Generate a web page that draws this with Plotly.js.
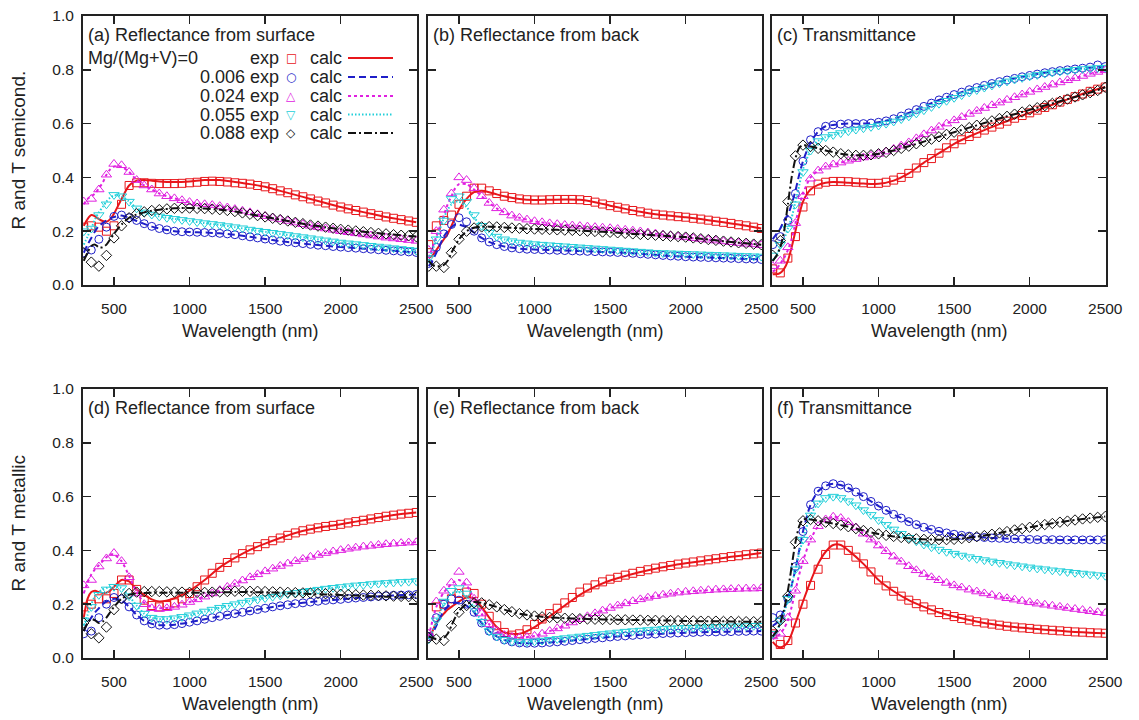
<!DOCTYPE html>
<html>
<head>
<meta charset="utf-8">
<script src="https://cdn.plot.ly/plotly-3.0.1.min.js"></script>
<style>html,body{margin:0;padding:0;background:#fff;}#chart{width:1139px;height:720px;}</style>
</head>
<body>
<div id="chart"></div>
<script>
// ---------- data ----------
const X_EXP = [300,350,400,450,500,550,600,650,700,750,800,850,900,950,1000,1050,1100,1150,1200,1250,1300,1350,1400,1450,1500,1550,1600,1650,1700,1750,1800,1850,1900,1950,2000,2050,2100,2150,2200,2250,2300,2350,2400,2450,2500];
const X_CALC = [300,325,350,375,400,425,450,475,500,550,600,650,700,750,800,900,1000,1100,1200,1300,1400,1500,1600,1700,1800,1900,2000,2100,2200,2300,2400,2500];
const X_TICKS = [500,1000,1500,2000,2500];
const Y_TICKS = [0,0.2,0.4,0.6,0.8,1.0];
const COMPOSITIONS = ['Mg/(Mg+V)=0','0.006','0.024','0.055','0.088'];
const PANEL_TITLES = ['(a) Reflectance from surface','(b) Reflectance from back','(c) Transmittance','(d) Reflectance from surface','(e) Reflectance from back','(f) Transmittance'];
const ROW_TITLES = ['R and T semicond.','R and T metallic'];
const X_TITLE = 'Wavelength (nm)';

// (a) semiconducting, reflectance from surface
const aExp0 = [.215,.22,.215,.20,.22,.30,.37,.38,.38,.378,.377,.377,.377,.378,.38,.382,.385,.386,.385,.383,.38,.378,.375,.37,.365,.358,.35,.343,.335,.328,.32,.312,.305,.297,.29,.283,.277,.271,.265,.259,.253,.248,.243,.238,.233];
const aCalc0 = [.22,.245,.26,.255,.245,.238,.235,.245,.265,.32,.37,.388,.39,.388,.385,.383,.385,.39,.39,.383,.375,.365,.35,.335,.32,.305,.29,.277,.265,.253,.243,.233];
const aExp1 = [.12,.13,.17,.215,.255,.26,.25,.24,.228,.218,.21,.205,.20,.198,.197,.196,.195,.194,.192,.19,.187,.183,.179,.175,.171,.167,.163,.16,.157,.154,.151,.148,.146,.143,.141,.139,.137,.135,.133,.131,.129,.127,.125,.123,.121];
const aCalc1 = [.12,.15,.175,.20,.22,.23,.24,.248,.253,.258,.25,.238,.227,.217,.21,.20,.197,.195,.192,.187,.179,.171,.163,.157,.151,.146,.141,.137,.133,.129,.125,.121];
const aExp2 = [.31,.32,.355,.41,.45,.445,.42,.39,.37,.355,.34,.33,.322,.315,.308,.303,.30,.297,.293,.288,.282,.276,.27,.263,.256,.25,.244,.238,.232,.226,.22,.215,.21,.205,.20,.196,.192,.188,.184,.18,.176,.173,.17,.167,.164];
const aCalc2 = [.30,.32,.33,.34,.36,.38,.41,.43,.44,.44,.42,.39,.37,.355,.34,.322,.308,.30,.293,.282,.27,.256,.244,.232,.22,.21,.20,.192,.184,.176,.17,.164];
const aExp3 = [.20,.21,.26,.30,.335,.33,.31,.285,.27,.262,.255,.25,.246,.242,.238,.234,.23,.227,.223,.219,.215,.211,.206,.202,.198,.194,.19,.186,.182,.178,.174,.17,.166,.162,.158,.155,.152,.149,.146,.143,.14,.137,.134,.131,.128];
const aCalc3 = [.15,.18,.21,.245,.27,.29,.31,.325,.333,.33,.31,.285,.27,.262,.255,.246,.238,.23,.223,.215,.206,.198,.19,.182,.174,.166,.158,.152,.146,.14,.134,.128];
const aExp4 = [.12,.085,.07,.11,.175,.22,.25,.265,.272,.277,.28,.283,.285,.286,.286,.285,.284,.282,.28,.277,.273,.268,.263,.258,.253,.248,.243,.238,.233,.228,.223,.219,.215,.211,.207,.204,.201,.198,.195,.192,.19,.187,.185,.183,.18];
const aCalc4 = [.09,.12,.145,.15,.14,.14,.15,.17,.19,.225,.25,.262,.27,.276,.28,.285,.286,.284,.28,.273,.263,.253,.243,.233,.223,.215,.207,.201,.195,.19,.185,.18];

// (b) semiconducting, reflectance from back
const bExp0 = [.15,.22,.24,.26,.30,.33,.36,.36,.35,.34,.33,.325,.32,.317,.316,.316,.317,.318,.318,.318,.317,.314,.308,.301,.295,.289,.283,.277,.272,.267,.263,.26,.257,.254,.252,.248,.245,.241,.237,.233,.229,.224,.22,.215,.21];
const bCalc0 = [.10,.11,.13,.15,.17,.19,.22,.25,.28,.32,.345,.35,.345,.337,.33,.32,.316,.317,.318,.317,.308,.295,.283,.272,.263,.257,.252,.245,.237,.229,.22,.21];
const bExp1 = [.08,.14,.19,.225,.25,.235,.20,.175,.16,.15,.143,.138,.135,.133,.132,.131,.13,.129,.128,.127,.126,.125,.124,.123,.122,.121,.12,.118,.116,.114,.112,.11,.108,.107,.105,.104,.103,.102,.101,.10,.099,.098,.097,.096,.095];
const bCalc1 = [.07,.09,.12,.15,.18,.20,.215,.225,.225,.215,.195,.175,.16,.15,.143,.135,.132,.13,.128,.126,.124,.122,.12,.116,.112,.108,.105,.103,.101,.099,.097,.095];
const bExp2 = [.13,.20,.28,.34,.40,.39,.36,.33,.305,.285,.27,.258,.25,.243,.237,.233,.229,.226,.223,.221,.219,.217,.215,.213,.211,.208,.205,.202,.199,.195,.191,.187,.184,.18,.177,.174,.171,.168,.165,.162,.159,.156,.153,.151,.148];
const bCalc2 = [.10,.14,.18,.22,.26,.30,.33,.36,.375,.375,.355,.33,.305,.285,.27,.25,.237,.229,.223,.219,.215,.211,.205,.199,.191,.184,.177,.171,.165,.159,.153,.148];
const bExp3 = [.10,.17,.24,.32,.33,.31,.26,.22,.195,.18,.17,.163,.158,.155,.152,.15,.148,.146,.144,.142,.14,.138,.136,.134,.132,.13,.128,.126,.124,.122,.12,.119,.118,.117,.116,.115,.114,.113,.112,.111,.11,.109,.108,.107,.106];
const bCalc3 = [.09,.13,.17,.21,.25,.28,.30,.31,.31,.29,.25,.22,.195,.18,.17,.158,.152,.148,.144,.14,.136,.132,.128,.124,.12,.118,.116,.114,.112,.11,.108,.106];
const bExp4 = [.07,.07,.065,.12,.17,.20,.212,.216,.217,.216,.214,.212,.211,.209,.208,.207,.206,.205,.204,.203,.202,.20,.199,.197,.196,.194,.192,.19,.188,.187,.185,.183,.181,.18,.178,.175,.172,.169,.166,.163,.16,.157,.155,.152,.15];
const bCalc4 = [.09,.075,.07,.07,.075,.09,.12,.145,.17,.20,.213,.217,.217,.216,.214,.211,.208,.206,.204,.202,.199,.196,.192,.188,.185,.181,.178,.172,.166,.16,.155,.15];

// (c) semiconducting, transmittance
const cExp0 = [.06,.045,.10,.18,.29,.35,.375,.382,.385,.385,.384,.382,.38,.378,.378,.382,.39,.40,.415,.435,.455,.47,.49,.51,.525,.54,.552,.564,.576,.587,.598,.609,.62,.63,.64,.65,.66,.67,.68,.69,.70,.71,.72,.728,.736];
const cCalc0 = [.04,.04,.045,.06,.09,.14,.20,.26,.31,.355,.372,.38,.383,.382,.38,.377,.376,.388,.415,.455,.49,.525,.552,.576,.598,.62,.64,.66,.68,.70,.72,.736];
const cExp1 = [.15,.18,.24,.34,.46,.54,.57,.59,.595,.598,.60,.60,.60,.602,.605,.61,.618,.628,.64,.652,.664,.676,.688,.698,.708,.717,.726,.734,.742,.749,.756,.762,.768,.774,.779,.784,.789,.793,.797,.80,.803,.806,.81,.818,.812];
const cCalc1 = [.17,.19,.21,.24,.26,.30,.35,.41,.46,.53,.57,.59,.595,.598,.60,.60,.605,.618,.64,.664,.688,.708,.726,.742,.756,.768,.779,.789,.797,.803,.808,.812];
const cExp2 = [.07,.09,.14,.23,.33,.395,.425,.44,.448,.455,.462,.468,.474,.48,.487,.496,.506,.518,.53,.545,.56,.574,.588,.60,.612,.624,.636,.647,.658,.668,.678,.688,.698,.708,.718,.727,.736,.745,.753,.761,.769,.777,.785,.792,.798];
const cCalc2 = [.05,.06,.08,.10,.13,.17,.23,.29,.34,.40,.425,.44,.448,.455,.462,.474,.487,.506,.53,.56,.588,.612,.636,.658,.678,.698,.718,.736,.753,.769,.785,.798];
const cExp3 = [.11,.15,.21,.30,.42,.50,.535,.55,.558,.565,.572,.578,.583,.588,.593,.60,.608,.617,.627,.638,.65,.662,.674,.685,.696,.706,.716,.725,.734,.742,.75,.757,.764,.77,.776,.781,.786,.79,.794,.797,.80,.803,.805,.807,.808];
const cCalc3 = [.09,.11,.14,.17,.21,.25,.31,.37,.43,.50,.535,.55,.558,.565,.572,.583,.593,.608,.627,.65,.674,.696,.716,.734,.75,.764,.776,.786,.794,.80,.805,.808];
const cExp4 = [.11,.165,.31,.48,.52,.515,.508,.50,.494,.488,.484,.482,.482,.484,.488,.493,.50,.508,.516,.525,.533,.542,.551,.56,.568,.577,.585,.594,.602,.61,.619,.627,.635,.643,.651,.659,.667,.675,.683,.691,.699,.707,.715,.723,.735];
const cCalc4 = [.09,.11,.14,.20,.30,.40,.47,.51,.52,.515,.508,.50,.494,.488,.484,.482,.488,.50,.516,.533,.551,.568,.585,.602,.619,.635,.651,.667,.683,.699,.715,.735];

// (d) metallic, reflectance from surface
const dExp0 = [.19,.20,.22,.22,.24,.29,.29,.255,.215,.195,.19,.195,.205,.22,.24,.265,.29,.315,.337,.355,.372,.388,.402,.414,.425,.436,.446,.456,.465,.473,.479,.484,.489,.493,.497,.502,.507,.512,.517,.522,.527,.531,.535,.538,.541];
const dCalc0 = [.15,.22,.245,.25,.245,.242,.243,.25,.265,.29,.285,.255,.235,.218,.21,.222,.25,.29,.337,.372,.402,.425,.446,.465,.479,.489,.497,.507,.517,.527,.535,.541];
const dExp1 = [.09,.10,.15,.20,.225,.22,.19,.16,.138,.127,.122,.122,.124,.128,.133,.138,.144,.15,.155,.16,.165,.17,.175,.18,.185,.19,.194,.198,.202,.205,.208,.211,.214,.216,.218,.221,.223,.225,.227,.229,.231,.233,.234,.235,.236];
const dCalc1 = [.10,.13,.15,.17,.185,.20,.21,.215,.22,.215,.19,.16,.138,.127,.122,.124,.133,.144,.155,.165,.175,.185,.194,.202,.208,.214,.218,.223,.227,.231,.234,.236];
const dExp2 = [.27,.29,.34,.37,.39,.36,.30,.24,.20,.185,.182,.185,.19,.198,.208,.218,.228,.24,.252,.264,.276,.288,.30,.311,.322,.332,.342,.351,.36,.368,.376,.383,.39,.396,.401,.406,.41,.414,.417,.42,.423,.425,.427,.429,.43];
const dCalc2 = [.24,.28,.31,.33,.345,.36,.375,.385,.385,.36,.305,.245,.205,.19,.185,.19,.208,.228,.252,.276,.30,.322,.342,.36,.376,.39,.401,.41,.417,.423,.427,.43];
const dExp3 = [.14,.19,.235,.255,.265,.26,.23,.195,.165,.15,.145,.145,.148,.153,.159,.166,.173,.18,.187,.194,.20,.206,.212,.218,.223,.228,.233,.238,.242,.246,.25,.254,.258,.261,.264,.267,.27,.272,.275,.277,.279,.281,.283,.284,.286];
const dCalc3 = [.12,.16,.20,.23,.245,.255,.26,.265,.265,.26,.23,.195,.165,.15,.145,.148,.159,.173,.187,.20,.212,.223,.233,.242,.25,.258,.264,.27,.275,.279,.283,.286];
const dExp4 = [.13,.09,.075,.115,.18,.22,.24,.245,.247,.247,.247,.246,.245,.245,.244,.244,.244,.245,.246,.247,.248,.248,.248,.248,.247,.246,.245,.244,.243,.242,.241,.24,.239,.238,.237,.236,.235,.234,.233,.232,.231,.23,.229,.228,.227];
const dCalc4 = [.10,.13,.145,.14,.13,.135,.15,.17,.19,.22,.235,.24,.242,.243,.243,.243,.243,.243,.244,.245,.245,.244,.242,.24,.238,.236,.234,.232,.23,.228,.226,.224];

// (e) metallic, reflectance from back
const eExp0 = [.08,.19,.20,.22,.24,.245,.24,.20,.155,.12,.095,.085,.09,.105,.125,.145,.165,.185,.205,.225,.245,.26,.272,.283,.293,.30,.308,.315,.322,.328,.334,.339,.344,.349,.353,.357,.361,.365,.369,.373,.377,.38,.384,.387,.39];
const eCalc0 = [.07,.10,.13,.15,.165,.18,.19,.20,.21,.225,.22,.19,.15,.115,.095,.09,.115,.155,.195,.235,.265,.288,.305,.32,.332,.343,.352,.36,.368,.376,.383,.39];
const eExp1 = [.08,.15,.20,.22,.215,.20,.17,.13,.10,.08,.067,.06,.056,.055,.055,.056,.058,.06,.062,.065,.068,.07,.073,.075,.078,.08,.082,.084,.086,.088,.089,.091,.092,.093,.094,.095,.096,.097,.097,.098,.098,.099,.099,.10,.10];
const eCalc1 = [.07,.09,.12,.15,.175,.19,.20,.205,.205,.195,.17,.13,.10,.08,.067,.056,.055,.058,.062,.068,.073,.078,.082,.086,.089,.092,.094,.096,.097,.098,.099,.10];
const eExp2 = [.09,.21,.25,.28,.32,.28,.22,.165,.125,.10,.085,.078,.076,.078,.082,.09,.10,.11,.12,.132,.144,.155,.166,.176,.186,.195,.203,.211,.218,.224,.23,.235,.239,.243,.246,.248,.25,.252,.254,.255,.256,.257,.258,.258,.259];
const eCalc2 = [.08,.14,.19,.22,.245,.26,.275,.285,.29,.27,.22,.165,.125,.10,.085,.076,.082,.10,.12,.144,.166,.186,.203,.218,.23,.239,.246,.25,.254,.256,.258,.259];
const eExp3 = [.07,.14,.21,.25,.26,.24,.185,.135,.10,.08,.068,.062,.06,.06,.062,.065,.068,.071,.074,.077,.08,.083,.086,.089,.092,.095,.098,.10,.102,.104,.106,.108,.11,.111,.112,.113,.114,.115,.116,.117,.118,.118,.119,.12,.12];
const eCalc3 = [.07,.10,.135,.17,.20,.225,.24,.245,.245,.23,.185,.135,.10,.08,.068,.06,.062,.068,.074,.08,.086,.092,.098,.102,.106,.11,.112,.114,.116,.118,.119,.12];
const eExp4 = [.075,.07,.065,.12,.17,.195,.205,.205,.198,.19,.18,.172,.165,.16,.156,.153,.151,.149,.148,.147,.146,.145,.144,.143,.143,.142,.142,.141,.141,.14,.14,.139,.139,.139,.138,.138,.137,.137,.137,.136,.136,.136,.135,.135,.135];
const eCalc4 = [.08,.075,.07,.07,.075,.09,.12,.15,.175,.20,.208,.205,.198,.19,.18,.165,.156,.151,.148,.146,.144,.143,.142,.141,.14,.139,.138,.137,.137,.136,.135,.135];

// (f) metallic, transmittance
const fExp0 = [.09,.05,.065,.13,.20,.27,.33,.385,.42,.42,.40,.375,.35,.32,.29,.268,.248,.23,.215,.202,.19,.179,.169,.161,.154,.147,.141,.135,.13,.126,.122,.118,.115,.112,.11,.107,.105,.103,.101,.099,.097,.096,.094,.093,.092];
const fCalc0 = [.06,.045,.04,.045,.06,.09,.13,.17,.21,.285,.35,.395,.42,.42,.40,.35,.29,.248,.215,.19,.169,.154,.141,.13,.122,.115,.11,.105,.101,.097,.094,.092];
const fExp1 = [.15,.16,.22,.34,.47,.57,.62,.64,.648,.643,.632,.617,.60,.582,.565,.549,.534,.52,.507,.496,.486,.478,.471,.465,.46,.456,.453,.45,.448,.446,.445,.444,.443,.442,.441,.44,.44,.44,.439,.439,.439,.439,.439,.439,.44];
const fCalc1 = [.12,.13,.15,.18,.22,.27,.33,.40,.47,.57,.62,.64,.648,.643,.632,.60,.565,.534,.507,.486,.471,.46,.453,.448,.445,.443,.441,.44,.439,.439,.439,.44];
const fExp2 = [.08,.09,.15,.25,.36,.44,.49,.515,.525,.52,.505,.485,.462,.44,.418,.397,.377,.358,.341,.326,.312,.30,.289,.279,.27,.262,.254,.247,.24,.234,.228,.222,.217,.212,.207,.202,.198,.194,.19,.186,.182,.178,.174,.17,.167];
const fCalc2 = [.07,.08,.09,.11,.14,.19,.25,.31,.36,.44,.49,.515,.525,.52,.505,.462,.418,.377,.341,.312,.289,.27,.254,.24,.228,.217,.207,.198,.19,.182,.174,.167];
const fExp3 = [.09,.14,.22,.33,.44,.53,.575,.595,.60,.595,.583,.568,.55,.532,.513,.495,.478,.462,.447,.434,.422,.412,.403,.395,.388,.381,.375,.369,.364,.359,.354,.349,.345,.341,.337,.333,.33,.326,.323,.32,.317,.314,.311,.308,.306];
const fCalc3 = [.08,.10,.13,.17,.21,.27,.33,.39,.44,.53,.575,.595,.60,.595,.583,.55,.513,.478,.447,.422,.403,.388,.375,.364,.354,.345,.337,.33,.323,.317,.311,.306];
const fExp4 = [.10,.14,.23,.43,.51,.515,.51,.505,.50,.494,.488,.481,.474,.467,.461,.456,.452,.448,.445,.443,.441,.44,.44,.44,.441,.444,.447,.451,.455,.46,.465,.47,.476,.481,.486,.491,.496,.50,.505,.509,.513,.517,.52,.523,.526];
const fCalc4 = [.08,.10,.13,.18,.25,.34,.43,.49,.515,.515,.51,.505,.50,.494,.488,.474,.461,.452,.445,.441,.44,.441,.447,.455,.465,.476,.486,.496,.505,.513,.52,.526];

// ---------- styling ----------
const W = 1139, H = 720;
const FONT = 'Liberation Sans, Arial, Helvetica, sans-serif';
const INK = '#222222';
const TXT = 18;
const COLORS = ['#e8161b', '#1f1fc8', '#e020e0', '#22cfd9', '#111111'];
const SYMBOLS = ['square-open','circle-open','triangle-up-open','triangle-down-open','diamond-open'];
const MSIZE = [8, 8, 9, 9, 8];
const DASHES = ['solid','7px,4px','3px,3px','1.5px,2px','8px,3px,2px,3px'];
const GLYPHS = ['\u25A1','\u25CB','\u25B3','\u25BD','\u25C7'];
const XDOM = [[83,417],[428,762],[772,1106]];
const YDOM = [[16,285],[389,658]];

const panels = [
  {exp:[aExp0,aExp1,aExp2,aExp3,aExp4], calc:[aCalc0,aCalc1,aCalc2,aCalc3,aCalc4]},
  {exp:[bExp0,bExp1,bExp2,bExp3,bExp4], calc:[bCalc0,bCalc1,bCalc2,bCalc3,bCalc4]},
  {exp:[cExp0,cExp1,cExp2,cExp3,cExp4], calc:[cCalc0,cCalc1,cCalc2,cCalc3,cCalc4]},
  {exp:[dExp0,dExp1,dExp2,dExp3,dExp4], calc:[dCalc0,dCalc1,dCalc2,dCalc3,dCalc4]},
  {exp:[eExp0,eExp1,eExp2,eExp3,eExp4], calc:[eCalc0,eCalc1,eCalc2,eCalc3,eCalc4]},
  {exp:[fExp0,fExp1,fExp2,fExp3,fExp4], calc:[fCalc0,fCalc1,fCalc2,fCalc3,fCalc4]}
];

const traces = [];
const layout = {
  width: W, height: H,
  margin: {l:0, r:0, t:0, b:0},
  paper_bgcolor: '#fff', plot_bgcolor: '#fff',
  showlegend: false,
  font: {family: FONT, color: INK, size: 15},
  annotations: [], shapes: []
};

const px = v => v / W;
const py = v => 1 - v / H;

panels.forEach((p, i) => {
  const n = i + 1;
  const xa = n === 1 ? 'x' : 'x' + n;
  const ya = n === 1 ? 'y' : 'y' + n;
  const col = i % 3, row = Math.floor(i / 3);
  for (let s = 0; s < 5; s++) {
    traces.push({
      x: X_EXP, y: p.exp[s], xaxis: xa, yaxis: ya, mode: 'markers', type: 'scatter',
      marker: {symbol: SYMBOLS[s], size: MSIZE[s], color: COLORS[s], line: {color: COLORS[s], width: 1}},
      hoverinfo: 'skip'
    });
    traces.push({
      x: X_CALC, y: p.calc[s], xaxis: xa, yaxis: ya, mode: 'lines', type: 'scatter',
      line: {color: COLORS[s], width: 2, dash: DASHES[s], shape: 'spline', smoothing: 0.7},
      hoverinfo: 'skip'
    });
  }
  layout['xaxis' + (n === 1 ? '' : n)] = {
    domain: [px(XDOM[col][0]), px(XDOM[col][1])],
    anchor: ya, range: [295, 2505], tickmode: 'array', tickvals: X_TICKS,
    ticks: 'inside', ticklen: 8, tickwidth: 1.5, tickcolor: INK,
    showline: true, linewidth: 2, linecolor: INK, mirror: 'allticks',
    showgrid: false, zeroline: false, ticklabelstandoff: 8,
    tickfont: {family: FONT, size: 15.5, color: INK}
  };
  layout['yaxis' + (n === 1 ? '' : n)] = {
    domain: [py(YDOM[row][1]), py(YDOM[row][0])],
    anchor: xa, range: [0, 1], tickmode: 'array', tickvals: Y_TICKS, tickformat: '.1f',
    ticks: 'inside', ticklen: 8, tickwidth: 1.5, tickcolor: INK,
    showline: true, linewidth: 2, linecolor: INK, mirror: 'allticks',
    showgrid: false, zeroline: false, showticklabels: col === 0, ticklabelstandoff: 4,
    tickfont: {family: FONT, size: 15.5, color: INK}
  };
  // panel label
  layout.annotations.push({xref:'paper', yref:'paper', x: px(XDOM[col][0] + 3), y: py(YDOM[row][0] + 19),
    xanchor:'left', yanchor:'middle', showarrow:false, text: PANEL_TITLES[i], font:{family:FONT, size:TXT, color:INK}});
  // x title
  layout.annotations.push({xref:'paper', yref:'paper', x: px((XDOM[col][0] + XDOM[col][1]) / 2), y: py(YDOM[row][1] + 46),
    xanchor:'center', yanchor:'middle', showarrow:false, text: X_TITLE, font:{family:FONT, size:TXT, color:INK}});
});

// row (y) titles
ROW_TITLES.forEach((t, r) => {
  layout.annotations.push({xref:'paper', yref:'paper', x: px(18), y: py((YDOM[r][0] + YDOM[r][1]) / 2),
    xanchor:'center', yanchor:'middle', textangle: -90, showarrow:false, text: t, font:{family:FONT, size:TXT + 1, color:INK}});
});

// legend inside panel (a)
const LEG_Y = [58, 77, 96, 114.5, 133];
COMPOSITIONS.forEach((c, s) => {
  const y = py(LEG_Y[s]);
  if (s === 0) {
    layout.annotations.push({xref:'paper', yref:'paper', x: px(86), y, xanchor:'left', yanchor:'middle', showarrow:false,
      text: c, font:{family:FONT, size:TXT, color:INK}});
    layout.annotations.push({xref:'paper', yref:'paper', x: px(281), y, xanchor:'right', yanchor:'middle', showarrow:false,
      text: 'exp', font:{family:FONT, size:TXT, color:INK}});
  } else {
    layout.annotations.push({xref:'paper', yref:'paper', x: px(281), y, xanchor:'right', yanchor:'middle', showarrow:false,
      text: c + ' exp', font:{family:FONT, size:TXT, color:INK}});
  }
  layout.annotations.push({xref:'paper', yref:'paper', x: px(291), y, xanchor:'center', yanchor:'middle', showarrow:false,
    text: GLYPHS[s], font:{family:'DejaVu Sans', size:12, color:COLORS[s]}});
  layout.annotations.push({xref:'paper', yref:'paper', x: px(344), y, xanchor:'right', yanchor:'middle', showarrow:false,
    text: 'calc', font:{family:FONT, size:TXT, color:INK}});
  layout.shapes.push({type:'line', xref:'paper', yref:'paper', x0: px(348), x1: px(393), y0: y, y1: y,
    line:{color: COLORS[s], width: 2, dash: DASHES[s]}});
});

Plotly.newPlot('chart', traces, layout, {staticPlot: true, displayModeBar: false});
</script>
</body>
</html>
